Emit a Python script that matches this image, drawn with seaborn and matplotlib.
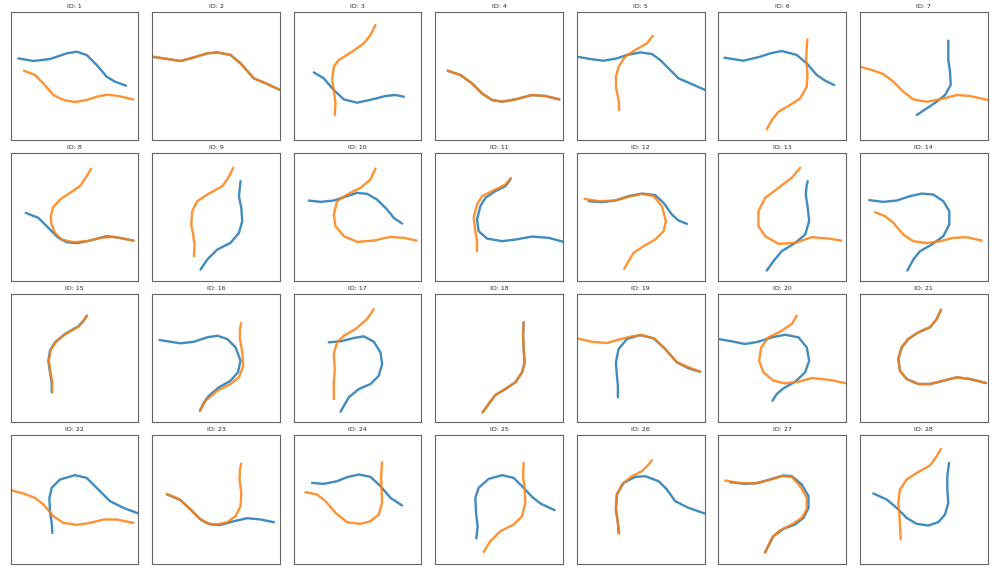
import numpy as np
import pandas as pd
import seaborn as sns
import matplotlib
matplotlib.use("Agg")
import matplotlib.pyplot as plt

blue_01 = [(7.7,46.7),(22.7,49.3),(39.3,47.3),(56,41.7),(66,40),(76,43.3),(86,53.3),(96,65),(104.3,70),(115.3,74)]
orange_01 = [(13.3,59),(24.3,63.3),(32.7,71.7),(42.7,83.3),(52.7,88.3),(64.3,90.3),(76,88.3),(86,85),(96,83),(106,84),(122.7,87.7)]
blue_02 = [(0,45),(15,47.3),(28.3,49.3),(41.7,45.7),(55,41.7),(65,40.7),(78.3,43.3),(88.3,51.7),(101.7,66.7),(115,72.3),(127.7,78.3)]
orange_02 = [(0,45),(15,47.3),(28.3,49.3),(41.7,45.7),(55,41.7),(65,40.7),(78.3,43.3),(88.3,51.7),(101.7,66.7),(115,72.3),(127.7,78.3)]
blue_03 = [(20,60.7),(30,66.7),(40,78.3),(50,87.7),(63.3,91),(78.3,87.7),(91.7,84.3),(101.7,83.3),(110,85)]
orange_03 = [(41,103.3),(41.7,91.7),(40,78.3),(38.3,68.3),(40,55),(45,48.3),(58.3,40),(70,31.7),(76.7,23.3),(81.7,13.3)]
blue_04 = [(12.3,59),(25,63.3),(36.7,71.7),(46.7,81.7),(56.7,88.3),(66.7,90),(80,87.7),(96.7,83.3),(110,84.3),(124,87.7)]
orange_04 = [(12.3,59),(25,63.3),(36.7,71.7),(46.7,81.7),(56.7,88.3),(66.7,90),(80,87.7),(96.7,83.3),(110,84.3),(124,87.7)]
blue_05 = [(0,45),(13.3,47.3),(26.7,49),(40,46.7),(50,43.3),(63.3,40.7),(75,42.3),(83.3,48.3),(91.7,56.7),(101.7,66.7),(113.3,71.7),(128.3,78.3)]
orange_05 = [(42.3,98.3),(41.7,88.3),(39.3,76.7),(39,65),(41.7,55),(48.3,45),(58.3,38.3),(70,31.7),(76,24)]
blue_06 = [(6,46),(25,49),(41.7,45),(51.7,41.7),(63.3,39.3),(78.3,43.3),(88.3,51.7),(98.3,63.3),(106.7,69),(115.7,73.3)]
orange_06 = [(48.3,117.7),(53.3,108.3),(60,100),(71.7,93.3),(81.7,86.7),(88.3,75),(89,61.7),(87.7,48.3),(88.3,35),(89,27.7)]
blue_07 = [(56.7,103.3),(66.7,96.7),(76.7,90),(85,83.3),(90.7,73.3),(90,60),(88.3,48.3),(88.3,38.3),(88.3,29)]
orange_07 = [(0,55),(11.7,58.3),(23.3,62.3),(33.3,70),(43.3,80),(53.3,87.7),(66.7,90),(80,87.7),(96.7,83.3),(110,84.3),(128.3,88.3)]

blue_08 = [(15,60),(27.7,65),(37.7,75),(47.7,85),(56,89.3),(66,90.3),(79.3,87.7),(96,83.3),(109.3,85),(122.7,87.7)]
orange_08 = [(122.7,87.7),(102.7,84),(89.3,85),(76,88.3),(62.7,89.3),(51,86.7),(44.3,80),(41,71.7),(40,65),(42,55),(49.3,46.7),(59.3,40),(69.3,33.3),(76,23.3),(80.3,16)]
blue_09 = [(48.3,116.7),(55,106.7),(65,96.7),(78.3,90),(86.7,80),(90,68.3),(89,55),(86.7,43.3),(88.3,28.3)]
orange_09 = [(41.7,103.3),(42.3,91.7),(41,81.7),(39,71.7),(40,58.3),(45,48.3),(55,41.7),(70,33.3),(75,26.7),(81,15)]
blue_10 = [(15,47.7),(26.7,49),(40,47.7),(50,44.3),(63.3,40),(73.3,41),(83.3,46.7),(93.3,56.7),(100,65),(108.3,70.7)]
orange_10 = [(81.7,15.7),(76.7,26.7),(66.7,35),(53.3,41.7),(43.3,48.3),(40,61.7),(41.7,73.3),(50,83.3),(63.3,89),(80,87.7),(96.7,84),(110,85),(122.7,87.7)]
blue_11 = [(75,26.7),(70,33.3),(60,38.3),(50,45),(45,53.3),(41.7,66.7),(43.3,78.3),(51.7,85.7),(66.7,88.3),(80,86.7),(96.7,83.7),(113.3,85),(128.3,89)]
orange_11 = [(75.7,25),(70,31.7),(56.7,38.3),(46.7,43.3),(41.7,51.7),(38.3,65),(40,78.3),(41.7,88.3),(41.7,98.3)]
blue_12 = [(11.7,48.3),(25,49.3),(38.3,47.7),(51.7,43.3),(65,40.7),(78.3,42.3),(86.7,50),(95,61.7),(101.7,67.7),(110,71)]
orange_12 = [(7.7,46),(21.7,48.3),(38.3,47.7),(51.7,44),(65,41),(76.7,43.3),(85,53.3),(89,68.3),(86.7,78.3),(78.3,86.7),(66.7,93.3),(56.7,100),(51.7,108.3),(47.3,116)]
blue_13 = [(48.3,117.7),(55,108.3),(63.3,98.3),(76.7,90),(86.7,81.7),(90.7,68.3),(89.3,55),(87.3,41.7),(88.3,31.7),(89.3,28.3)]
orange_13 = [(81.7,15),(73.3,25),(60,35),(46.7,45),(40,58.3),(40,73.3),(46.7,83.3),(60,91),(76.7,90),(93.3,84.3),(110,85.7),(122.7,87.7)]
blue_14 = [(9.3,47.3),(23.3,49),(36.7,47.7),(50,43.3),(61.7,40.7),(73.3,41.7),(83.3,48.3),(89.3,58.3),(89.3,71.7),(83.3,83.3),(71.7,91.7),(60,98.3),(53.3,106.7),(47.3,117.7)]
orange_14 = [(15,59.3),(25,63.3),(33.3,70),(43.3,81.7),(53.3,88.3),(66.7,90.3),(80,88.3),(93.3,85),(106.7,84.3),(121.7,87.7)]

blue_15 = [(41,98.3),(41,88.3),(39.3,78.3),(37.7,66.7),(39.3,56.7),(44.3,48.3),(54.3,40),(67.7,32.3),(72.7,26.7),(76,21.7)]
orange_15 = [(41.5,98.3),(41.5,88.3),(39.8,78.3),(38.2,66.7),(39.8,56.7),(44.8,48.3),(54.8,40),(68.2,32.3),(73.2,26.7),(76.5,21.7)]
blue_16 = [(7.3,46),(28.3,49.3),(41.7,47.7),(55,43.3),(65,41.7),(75,45),(83.3,53.3),(88.3,66.7),(85.7,78.3),(78.3,86.7),(66.7,93.3),(56.7,101.7),(51.7,108.3),(47.7,116.7)]
orange_16 = [(47.7,116.7),(53.3,106.7),(65,96.7),(78.3,90),(86.7,83.3),(91,71.7),(90,58.3),(87.7,45),(87.7,35),(89,29)]
blue_17 = [(35,48.3),(46.7,47.3),(60,44),(70,42.3),(80,47.7),(86.7,58.3),(88.3,70),(85,81.7),(76.7,90),(65,95),(55,103.3),(46.7,117.7)]
orange_17 = [(80,15),(73.3,25),(61.7,35),(50,41.7),(43.3,48.3),(40,60),(41,75),(40,88.3),(40,105)]
blue_18 = [(47.3,118.3),(53.3,110),(60,101),(70,95),(80,88.3),(86.7,78.3),(89.3,68.3),(88.3,55),(87.7,41.7),(88.3,28.3)]
orange_18 = [(47.3,118.3),(53.3,110),(60,101),(70,95),(80,88.3),(86.7,78.3),(89.3,68.3),(88.3,55),(87.7,41.7),(88.3,28.3)]
blue_19 = [(41,103.3),(41,91.7),(40,81.7),(39,68.3),(41.7,55),(50,45),(63.3,41),(76.7,44.3),(88.3,55),(100,68.3),(111.7,74.3),(123.3,77.7)]
orange_19 = [(0,44.3),(15,47.7),(30,49),(41.7,45.7),(55,42.3),(65,41),(78.3,45),(88.3,55),(100,68.3),(111.7,73.3),(123.3,77.7)]
blue_20 = [(0,45),(13.3,47.3),(26.7,50),(40,47.7),(53.3,43.3),(66.7,40.7),(80,43.3),(88.3,53.3),(90.7,66.7),(86.7,78.3),(76.7,87.7),(65,94.3),(58.3,100),(54,106.7)]
orange_20 = [(78.3,21.7),(73.3,30),(61.7,37.7),(50,43.3),(42.7,53.3),(40.7,66.7),(45,78.3),(55,86.7),(66.7,89.3),(80,87.7),(93.3,84),(110,85.7),(128.3,89.3)]
blue_21 = [(81,15.7),(76.7,25),(70,33.3),(58.3,38.3),(48.3,45),(41.7,53.3),(38.3,65),(40,76.7),(46.7,85),(58.3,90),(70,90),(83.3,86.7),(96.7,83.3),(110,85),(126,89)]
orange_21 = [(81,15.7),(76.7,25),(70,33.3),(58.3,38.3),(48.3,45),(41.7,53.3),(38.3,65),(40,76.7),(46.7,85),(58.3,90),(70,90),(83.3,86.7),(96.7,83.3),(110,85),(126,89)]

blue_22 = [(41.7,97.7),(41,87.7),(39.3,76),(38.7,62.7),(41,52.7),(49.3,44.3),(64.3,40),(76,42.7),(86,52.7),(99.3,66),(112.7,72.7),(127.7,78.3)]
orange_22 = [(0,55),(12.7,58.3),(24.3,62.7),(32.7,69.3),(42.7,81),(52.7,87.7),(66,89.7),(79.3,87.7),(92.7,84.3),(106,84.3),(122.7,87.7)]
blue_23 = [(15,59.3),(28.3,65),(38.3,74.3),(48.3,84.3),(58.3,89.3),(68.3,89.7),(81.7,86),(95,83),(108.3,84.3),(121.7,87)]
orange_23 = [(14.3,58.7),(26.7,63.7),(36.7,72.7),(46.7,82.7),(55,88.3),(65,89.3),(75,87),(83.3,81),(88.3,71),(89,57.7),(87.3,44.3),(87.7,34.3),(89,28.3)]
blue_24 = [(18.3,47.7),(30,48.7),(43.3,46),(53.3,42),(65,39.3),(76.7,41.7),(86.7,51),(96.7,62.7),(108.3,70.3)]
orange_24 = [(11.7,57),(23.3,59.3),(31.7,66),(41.7,77.7),(53.3,87),(66.7,88.7),(76.7,86),(85,79.3),(88.3,67.7),(87.7,54.3),(87.3,41),(88.3,27)]
blue_25 = [(41,103.3),(42.3,91),(40.7,77.7),(40,62.7),(43.3,52.7),(53.3,43.7),(66.7,40),(78.3,42.7),(88.3,52.7),(96.7,61.7),(105,68.3),(119.3,75)]
orange_25 = [(48.3,116.7),(55,106),(65,96),(78.3,89.3),(86.7,81),(90,67.7),(89.3,54.3),(87.7,41),(88.3,27.7)]
blue_26 = [(41.7,97.7),(41,87.7),(39,74.3),(40,59.3),(46.7,47.7),(58.3,41.7),(68.3,41),(81.7,46),(90,54.3),(98.3,66),(111.7,72.7),(127.7,78.3)]
orange_26 = [(42.3,98.3),(41,87.7),(39,74.3),(40,59.3),(45,49.3),(55,41),(65,36),(71.7,29.3),(75,25)]
blue_27 = [(11.7,47),(26.7,48.7),(40,47.7),(53.3,43.7),(65,40.3),(73.3,41),(83.3,49.3),(90,61),(90,72.7),(85,82.7),(76.7,89.3),(65,93.7),(55,101),(46.7,117)]
orange_27 = [(6.7,45.3),(20,47.7),(36.7,48.3),(50,45),(63.3,41),(73.3,41.7),(81.7,51),(88.3,62.7),(88.3,74.3),(83.3,82.7),(73.3,89.3),(61.7,95),(53.3,102.7),(46.7,117.7)]
blue_28 = [(13.3,58.3),(26.7,64.3),(36.7,72.7),(46.7,82.7),(56.7,88.7),(68.3,90.3),(78.3,87),(85,79.3),(88.3,67.7),(87.3,54.3),(87.3,41),(89,27.7)]
orange_28 = [(40.7,104.3),(40,91),(39.3,77.7),(38.3,67.7),(40,54.3),(46.7,44.3),(56.7,37.7),(70,30.3),(76.7,21),(81,13.7)]

g = globals()
blues = [g[f"blue_{i:02d}"] for i in range(1, 29)]
oranges = [g[f"orange_{i:02d}"] for i in range(1, 29)]

sns.set_theme(style="white")
pal = sns.color_palette("tab10")

fig, axes = plt.subplots(4, 7, figsize=(9.97, 5.70), dpi=100)
plt.subplots_adjust(left=0.0107, right=0.9906, top=0.9795, bottom=0.0114,
                    wspace=0.109, hspace=0.10)

for i, ax in enumerate(axes.flat):
    for pts, col in [(blues[i], pal[0]), (oranges[i], pal[1])]:
        df = pd.DataFrame(pts, columns=["x", "y"])
        sns.lineplot(data=df, x="x", y="y", sort=False, estimator=None,
                     color=col, lw=1.7, alpha=0.85, ax=ax,
                     solid_joinstyle="round", solid_capstyle="round")
    ax.set_xlim(0, 127.6)
    ax.set_ylim(128.3, 0)
    ax.set_xticks([])
    ax.set_yticks([])
    ax.set_xlabel("")
    ax.set_ylabel("")
    ax.set_title(f"ID: {i + 1}", fontsize=4.5, pad=3)
    for s in ax.spines.values():
        s.set_color("#666666")
        s.set_linewidth(0.8)

fig.savefig("out.png", dpi=100)
